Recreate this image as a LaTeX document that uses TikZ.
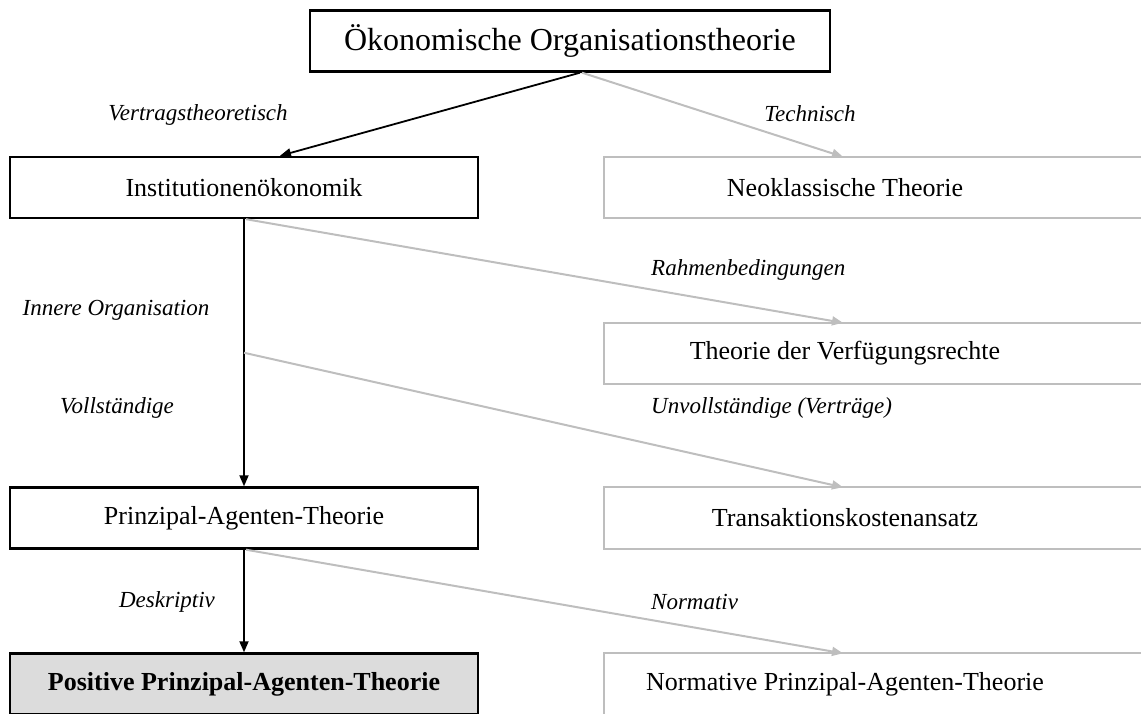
\documentclass[tikz,border=0pt]{standalone}
\usepackage{fontspec}
\setmainfont{Liberation Serif}
\usetikzlibrary{arrows.meta,calc}
\definecolor{lightline}{HTML}{BEBEBE}
\definecolor{posfill}{HTML}{DCDCDC}
\begin{document}
\begin{tikzpicture}[x=1pt,y=-1pt,
  box/.style={draw=black,line width=2.4pt,minimum width=468pt,minimum height=61pt,
    inner sep=0pt,font=\fontsize{26}{31}\selectfont},
  topbox/.style={box,minimum width=520pt,font=\fontsize{32}{38}\selectfont},
  % right-hand boxes run past the right margin; their frame is drawn separately
  rbox/.style={draw=none,minimum width=482pt,minimum height=61pt,
    inner sep=0pt,font=\fontsize{26}{31}\selectfont},
  gframe/.style={draw=lightline,line width=2pt},
  darrow/.style={draw=black,line width=1.8pt,-{Triangle[length=11pt,width=9pt]}},
  garrow/.style={draw=lightline,line width=2pt,-{Triangle[length=11pt,width=9pt]}},
  lab/.style={font=\fontsize{23}{28}\selectfont\itshape,inner sep=0pt}]
\useasboundingbox (0,0) rectangle (1141,713);
\clip (0,0) rectangle (1141,713);

% boxes
\node[topbox] (oek) at (570,41) {Ökonomische Organisationstheorie};
\node[box] (inst) at (244,187.5) {Institutionenökonomik};
\node[rbox] (neo) at (845,187.5) {Neoklassische Theorie};
\node[rbox] (verf) at (845,353.5) {Theorie der Verfügungsrechte};
\node[box] (pat) at (244,518) {Prinzipal-Agenten-Theorie};
\node[rbox] (trans) at (845,518) {Transaktionskostenansatz};
\node[box,fill=posfill,font=\fontsize{26}{31}\selectfont\bfseries] (pos) at (244,684)
  {Positive Prinzipal-Agenten-Theorie};
\node[rbox] (norm) at (845,684) {Normative Prinzipal-Agenten-Theorie};

% open frames of the right-hand boxes
\foreach \b in {neo,verf,trans,norm}
  \draw[gframe] ([xshift=90pt]\b.north east) -- (\b.north west)
    -- (\b.south west) -- ([xshift=90pt]\b.south east);

% branch point on the vertical connector
\coordinate (split) at ($(inst.south)!0.5!(pat.north)$);

% connectors
\draw[darrow] ([xshift=10pt]oek.south) -- ([xshift=36pt]inst.north);
\draw[garrow] ([xshift=12pt]oek.south) -- ([xshift=-2pt]neo.north);
\draw[darrow] (inst.south) -- (pat.north);
\draw[garrow] ([xshift=2pt]inst.south) -- ([xshift=-2pt]verf.north);
\draw[garrow] (split) -- ([xshift=-2pt]trans.north);
\draw[darrow] (pat.south) -- (pos.north);
\draw[garrow] ([xshift=2pt]pat.south) -- ([xshift=-2pt]norm.north);

% connector labels
\node[lab] (l1) at (198,115) {Vertragstheoretisch};
\node[lab] (l2) at (810,114) {Technisch};
\node[lab,anchor=west] (l3) at (651,270) {Rahmenbedingungen};
\node[lab] (l4) at (116,310) {Innere Organisation};
\node[lab] (l5) at (117,408) {Vollständige};
\node[lab,anchor=west] (l6) at (651,408) {Unvollständige (Verträge)};
\node[lab] (l7) at (167,602) {Deskriptiv};
\node[lab,anchor=west] (l8) at (651,602) {Normativ};
\end{tikzpicture}
\end{document}
